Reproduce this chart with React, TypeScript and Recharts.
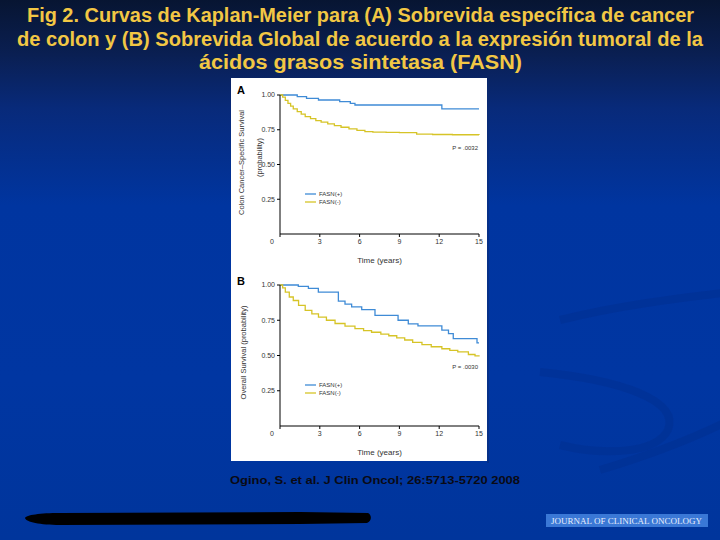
import React from 'react';
import { LineChart, Line, XAxis, YAxis, Legend } from 'recharts';

// ---- data (time in years, survival probability) ----
const xTicks = [0, 3, 6, 9, 12, 15];
const yTicks = [0.25, 0.5, 0.75, 1];

const titleLines = [
  'Fig 2. Curvas de Kaplan-Meier para (A) Sobrevida específica de cancer',
  'de colon y (B) Sobrevida Global de acuerdo a la expresión  tumoral de la',
  'ácidos grasos sintetasa (FASN)',
];
const citation = 'Ogino, S. et al. J Clin Oncol; 26:5713-5720 2008';
const journal = 'JOURNAL OF CLINICAL ONCOLOGY';
const seriesNames = ['FASN(+)', 'FASN(-)'];
const pValues = ['P = .0032', 'P = .0030'];
const yLabelA = ['Colon Cancer–Specific Survival', '(probability)'];
const yLabelB = 'Overall Survival (probability)';
const xLabel = 'Time (years)';

const blueA = [
  { t: 0, s: 1.0 }, { t: 1.3, s: 0.988 }, { t: 2.0, s: 0.976 }, { t: 2.9, s: 0.964 },
  { t: 4.5, s: 0.952 }, { t: 5.3, s: 0.94 }, { t: 5.65, s: 0.928 }, { t: 12.2, s: 0.9 },
  { t: 15, s: 0.9 },
];
const yellowA = [
  { t: 0, s: 1.0 }, { t: 0.2, s: 0.985 }, { t: 0.4, s: 0.962 }, { t: 0.6, s: 0.94 },
  { t: 0.8, s: 0.92 }, { t: 1.0, s: 0.9 }, { t: 1.3, s: 0.88 }, { t: 1.6, s: 0.862 },
  { t: 1.9, s: 0.845 }, { t: 2.3, s: 0.83 }, { t: 2.7, s: 0.816 }, { t: 3.1, s: 0.805 },
  { t: 3.6, s: 0.792 }, { t: 4.1, s: 0.78 }, { t: 4.6, s: 0.768 }, { t: 5.2, s: 0.756 },
  { t: 5.8, s: 0.745 }, { t: 6.4, s: 0.737 }, { t: 7.0, s: 0.733 }, { t: 8.0, s: 0.731 },
  { t: 9.0, s: 0.729 }, { t: 10.3, s: 0.718 }, { t: 11.5, s: 0.716 }, { t: 13, s: 0.714 },
  { t: 15, s: 0.713 },
];
const blueB = [
  { t: 0, s: 1.0 }, { t: 1.38, s: 0.99 }, { t: 2.14, s: 0.976 }, { t: 2.89, s: 0.95 },
  { t: 4.4, s: 0.885 }, { t: 4.9, s: 0.865 }, { t: 5.4, s: 0.845 }, { t: 6.16, s: 0.825 },
  { t: 7.16, s: 0.785 }, { t: 8.9, s: 0.75 }, { t: 9.67, s: 0.725 }, { t: 10.4, s: 0.71 },
  { t: 12.2, s: 0.68 }, { t: 12.7, s: 0.655 }, { t: 13.06, s: 0.62 }, { t: 14.85, s: 0.59 },
  { t: 15, s: 0.59 },
];
const yellowB = [
  { t: 0, s: 1.0 }, { t: 0.2, s: 0.98 }, { t: 0.4, s: 0.95 }, { t: 0.7, s: 0.915 },
  { t: 1.0, s: 0.89 }, { t: 1.4, s: 0.855 }, { t: 1.9, s: 0.82 }, { t: 2.4, s: 0.795 },
  { t: 2.9, s: 0.772 }, { t: 3.5, s: 0.75 }, { t: 4.15, s: 0.727 }, { t: 4.9, s: 0.708 },
  { t: 5.65, s: 0.69 }, { t: 6.3, s: 0.677 }, { t: 6.9, s: 0.665 }, { t: 7.6, s: 0.652 },
  { t: 8.2, s: 0.64 }, { t: 8.8, s: 0.625 }, { t: 9.4, s: 0.61 }, { t: 10.0, s: 0.593 },
  { t: 10.7, s: 0.577 }, { t: 11.4, s: 0.562 }, { t: 12.2, s: 0.548 }, { t: 12.8, s: 0.537 },
  { t: 13.4, s: 0.526 }, { t: 14.2, s: 0.507 }, { t: 14.7, s: 0.498 }, { t: 15, s: 0.493 },
];

const BLUE = '#3f8bd6';
const YELLOW = '#d6c427';
const FONT = "'Liberation Sans', Arial, sans-serif";

const XTick = (props: any) => {
  const { x, y, payload } = props;
  const dx = payload.value === 0 ? -8 : 0;
  return (
    <text x={x + dx} y={y} dy="0.71em" textAnchor="middle" fontSize={7} fill="#333" fontFamily={FONT}>
      {payload.value}
    </text>
  );
};

const LegendBox = () => (
  <div style={{ fontFamily: FONT, fontSize: 6, color: '#333', lineHeight: '8px' }}>
    {seriesNames.map((n, i) => (
      <div key={n} style={{ display: 'flex', alignItems: 'center', height: 8 }}>
        <svg width={12} height={8} style={{ display: 'block' }}>
          <line x1={0} y1={4} x2={11} y2={4} stroke={i === 0 ? BLUE : YELLOW} strokeWidth={1.3} />
        </svg>
        <span style={{ marginLeft: 2 }}>{n}</span>
      </div>
    ))}
  </div>
);

const Panel = ({ blue, yellow, yLabel, top, height, legendTop }: any) => {
  const yLabelContent = (p: any) => {
    const vb = p.viewBox;
    const cx = vb.x;
    const cy = vb.y + vb.height / 2;
    if (Array.isArray(yLabel)) {
      return (
        <g fontFamily={FONT} fontSize={7.5} fill="#333">
          <text x={cx + 10} y={cy - 2} textAnchor="middle" dominantBaseline="central" transform={`rotate(-90, ${cx + 10}, ${cy - 2})`}>
            {yLabel[0]}
          </text>
          <text x={cx + 28} y={cy - 7} textAnchor="middle" dominantBaseline="central" transform={`rotate(-90, ${cx + 28}, ${cy - 7})`}>
            {yLabel[1]}
          </text>
        </g>
      );
    }
    return (
      <text x={cx + 12} y={cy - 3} textAnchor="middle" dominantBaseline="central" fontFamily={FONT} fontSize={7.5} fill="#333"
        transform={`rotate(-90, ${cx + 12}, ${cy - 3})`}>
        {yLabel}
      </text>
    );
  };
  return (
    <div style={{ position: 'absolute', left: 231, top, width: 256, height }}>
      <LineChart width={256} height={height} margin={{ top: 17, right: 8, left: 0, bottom: 0 }}>
        <XAxis
          dataKey="t"
          type="number"
          domain={[0, 15]}
          ticks={xTicks}
          height={34}
          tick={<XTick />}
          tickSize={3}
          tickMargin={2}
          axisLine={{ stroke: '#000', strokeWidth: 1 }}
          tickLine={{ stroke: '#000' }}
          label={{ value: xLabel, position: 'insideBottom', offset: 5, fontSize: 8, fill: '#333', fontFamily: FONT }}
          allowDuplicatedCategory={false}
        />
        <YAxis
          type="number"
          domain={[0, 1]}
          ticks={yTicks}
          width={49}
          tickFormatter={(v: number) => v.toFixed(2)}
          tick={{ fontSize: 7, fill: '#333', fontFamily: FONT }}
          tickSize={3}
          tickMargin={2}
          axisLine={{ stroke: '#000', strokeWidth: 1 }}
          tickLine={{ stroke: '#000' }}
          label={{ content: yLabelContent }}
        />
        <Legend
          layout="vertical"
          align="center"
          verticalAlign="middle"
          content={<LegendBox />}
          wrapperStyle={{ position: 'absolute', left: 74, top: legendTop, width: 60, height: 16 }}
        />
        <Line data={blue} dataKey="s" type="stepAfter" stroke={BLUE} strokeWidth={1.3} dot={false} isAnimationActive={false} name={seriesNames[0]} />
        <Line data={yellow} dataKey="s" type="stepAfter" stroke={YELLOW} strokeWidth={1.3} dot={false} isAnimationActive={false} name={seriesNames[1]} />
      </LineChart>
    </div>
  );
};

export default function App() {
  return (
    <div
      style={{
        position: 'absolute', left: 0, top: 0, width: 720, height: 540, overflow: 'hidden',
        background: 'linear-gradient(to bottom, #071532 0%, #0a1f52 10%, #082a7a 20%, #0035a0 38%, #0036a2 70%, #00359c 100%)',
        fontFamily: FONT,
      }}
    >
      <svg width={720} height={540} style={{ position: 'absolute', left: 0, top: 0 }}>
        {/* faint background swirls */}
        <g fill="none" stroke="#002a85" strokeOpacity={0.3} strokeWidth={8}>
          <path d="M560,320 C620,305 680,298 730,292" />
          <path d="M540,372 C620,380 680,400 668,430 C655,455 600,455 560,445" />
          <path d="M600,470 C650,455 690,440 730,420" />
        </g>
        {/* title */}
        <g fontFamily="'Liberation Sans Narrow', 'Liberation Sans', Arial, sans-serif" fontWeight="bold" fontSize={20} fill="#f2c744">
          <text x={27} y={22} textLength={667} lengthAdjust="spacingAndGlyphs">{titleLines[0]}</text>
          <text x={17} y={46} textLength={686} lengthAdjust="spacingAndGlyphs">{titleLines[1]}</text>
          <text x={199} y={69} textLength={323} lengthAdjust="spacingAndGlyphs">{titleLines[2]}</text>
        </g>
        {/* white panel */}
        <rect x={231} y={78} width={256} height={383} fill="#ffffff" />
        <rect x={487} y={80} width={2} height={383} fill="#0a2a70" opacity={0.5} />
        <text x={237} y={94} fontFamily={FONT} fontWeight="bold" fontSize={11} fill="#000">A</text>
        <text x={237} y={285} fontFamily={FONT} fontWeight="bold" fontSize={11} fill="#000">B</text>
        <text x={478} y={150} textAnchor="end" fontFamily={FONT} fontSize={6} fill="#333">{pValues[0]}</text>
        <text x={478} y={369} textAnchor="end" fontFamily={FONT} fontSize={6} fill="#333">{pValues[1]}</text>
        {/* citation */}
        <text x={230} y={484} fontFamily={FONT} fontWeight="bold" fontSize={11} fill="#0a0a14" textLength={290} lengthAdjust="spacingAndGlyphs">{citation}</text>
        {/* black scribble bar */}
        <path d="M25,518 C26,515 40,513 60,513 L300,512 L368,513 C372,515 372,521 367,523 L300,524 L60,525 C40,525 26,522 25,518 Z" fill="#000" />
        {/* journal logo */}
        <rect x={546} y={514} width={162} height={13} fill="#3a78d6" />
        <text x={551} y={524} fontFamily="'Liberation Serif', 'DejaVu Serif', serif" fontSize={8} fill="#e8eefa" textLength={151} lengthAdjust="spacingAndGlyphs">{journal}</text>
      </svg>
      <Panel blue={blueA} yellow={yellowA} yLabel={yLabelA} top={78} height={190} legendTop={112} />
      <Panel blue={blueB} yellow={yellowB} yLabel={yLabelB} top={268} height={192} legendTop={113} />
    </div>
  );
}
